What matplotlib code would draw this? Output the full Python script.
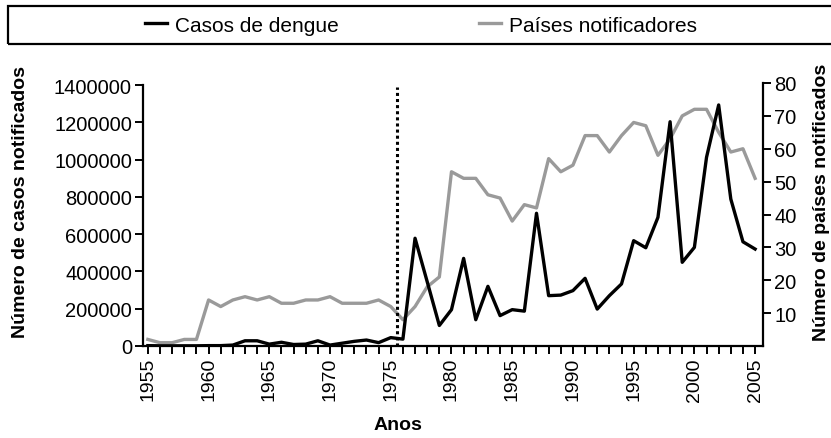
import matplotlib
matplotlib.use('Agg')
import matplotlib.pyplot as plt
from matplotlib.patches import Rectangle
from matplotlib.ticker import MultipleLocator, StrMethodFormatter

# data, 1955-2005
anos = list(range(1955, 2006))
casos = [2000, 1000, 1000, 1000, 1000, 2000, 2000, 5000, 28000, 28000,
         10000, 20000, 8000, 10000, 28000, 5000, 15000, 25000, 32000, 18000,
         45000, 37000, 578000, 345000, 110000, 195000, 470000, 141000, 320000, 163000,
         195000, 187000, 712000, 270000, 273000, 297000, 363000, 198000, 270000, 333000,
         565000, 527000, 690000, 1203000, 449000, 529000, 1012000, 1293000, 788000, 559000,
         520000]
paises = [2, 1, 1, 2, 2, 14, 12, 14, 15, 14,
          15, 13, 13, 14, 14, 15, 13, 13, 13, 14,
          12, 8, 12, 18, 21, 53, 51, 51, 46, 45,
          38, 43, 42, 57, 53, 55, 64, 64, 59, 64,
          68, 67, 58, 63, 70, 72, 72, 65, 59, 60,
          51]
ano_marco = 1975.5

plt.rcParams['font.family'] = ['Liberation Sans', 'DejaVu Sans']

fig = plt.figure(figsize=(8.31, 4.39), dpi=100)
ax = fig.add_axes([143 / 831, 1 - 347 / 439, 620 / 831, 263 / 439])
ax2 = ax.twinx()

# black line must sit above the gray one
ax.set_zorder(ax2.get_zorder() + 1)
ax.patch.set_visible(False)

l1, = ax.plot(anos, casos, color='black', lw=2.4, label='Casos de dengue')
l2, = ax2.plot(anos, paises, color='#9a9a9a', lw=2.4, label='Países notificadores')
ax.axvline(ano_marco, ymin=0, ymax=0.985, color='black', lw=2.2, linestyle=(0, (1, 1)))

ax.set_xlim(1954.6, 2005.65)
ax.set_ylim(0, 1400000 * 263 / 261)
ax2.set_ylim(0, 80)

ax.set_yticks(range(0, 1400001, 200000))
ax.yaxis.set_major_formatter(StrMethodFormatter('{x:.0f}'))
ax.xaxis.set_major_locator(MultipleLocator(5))
ax.xaxis.set_minor_locator(MultipleLocator(1))
ax2.set_yticks(range(10, 81, 10))

for a in (ax, ax2):
    a.spines['top'].set_visible(False)
    for s in a.spines.values():
        s.set_linewidth(1.6)
ax.spines['right'].set_visible(False)
ax.spines['left'].set_bounds(0, 1400000)
ax2.spines['left'].set_visible(False)
ax2.spines['bottom'].set_visible(False)

ax.tick_params(axis='both', which='both', direction='out', width=1.4, length=6, labelsize=14.5, pad=2)
ax.tick_params(axis='x', labelrotation=90, labelsize=14, pad=2)
ax2.tick_params(axis='y', direction='out', width=1.4, length=6, labelsize=14.5, pad=2)

ax.set_ylabel('Número de casos notificados', fontsize=14, fontweight='bold', va='center')
ax.yaxis.set_label_coords(-0.197, 0.55)
ax2.set_ylabel('Número de países notificados', fontsize=14, fontweight='bold',
               rotation=90, va='center')
ax2.yaxis.set_label_coords(1.095, 0.55)
ax.set_xlabel('Anos', fontsize=14, fontweight='bold')
ax.xaxis.set_label_coords(0.411, -0.266)

# legend box across the top
fig.patches.append(Rectangle((8 / 831, 1 - 45 / 439), 1.0, 38 / 439, transform=fig.transFigure,
                             fill=False, edgecolor='black', lw=1.6))
fig.legend(handles=[l1, l2], loc='center', bbox_to_anchor=(421 / 831, 1 - 26 / 439),
           ncol=2, frameon=False, fontsize=15, handlelength=1.05, handletextpad=0.4,
           columnspacing=6.7)

fig.savefig('out.png', dpi=100)
plt.close(fig)
